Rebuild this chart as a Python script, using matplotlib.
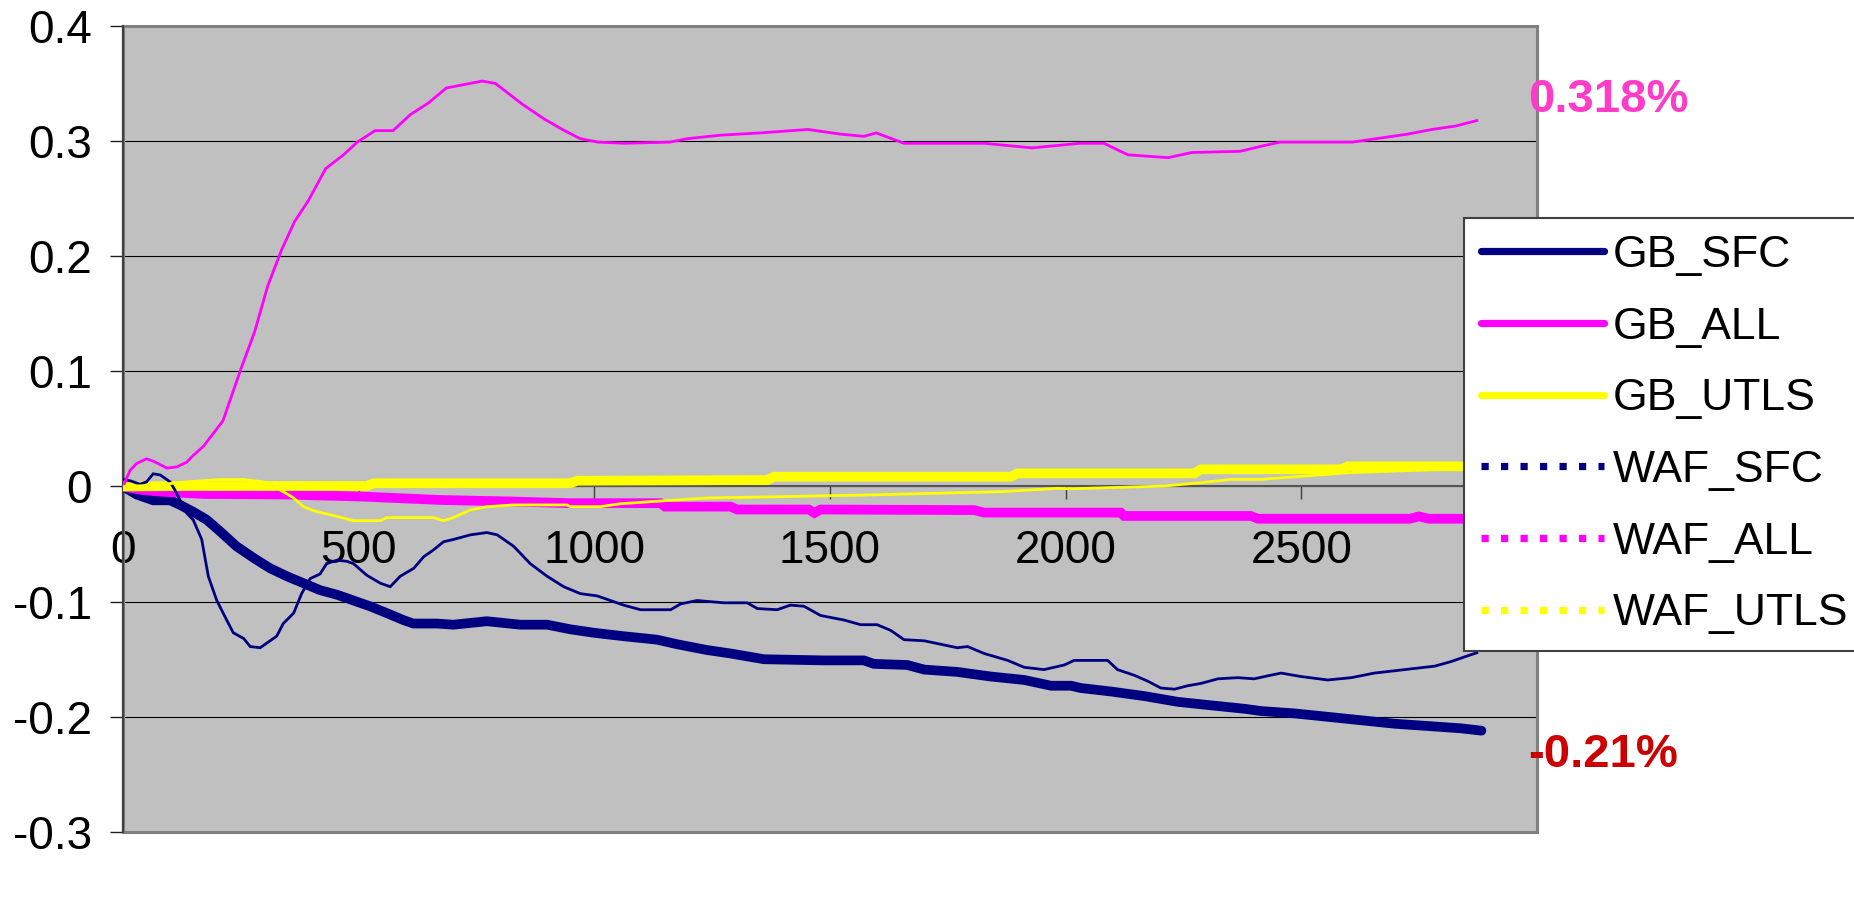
import matplotlib
matplotlib.use("Agg")
import matplotlib.pyplot as plt
from matplotlib.lines import Line2D
from matplotlib.patches import Rectangle

plt.rcParams['font.family'] = ['Liberation Sans', 'DejaVu Sans']

# ---- data ----
series_names = ["GB_SFC", "GB_ALL", "GB_UTLS", "WAF_SFC", "WAF_ALL", "WAF_UTLS"]

gb_sfc = [(0, 0), (29, -0.007), (64, -0.012), (100, -0.012), (121, -0.016), (149, -0.022),
          (178, -0.029), (206, -0.039), (241, -0.052), (277, -0.062), (312, -0.071), (348, -0.078),
          (383, -0.084), (418, -0.090), (454, -0.094), (489, -0.099), (524, -0.104), (560, -0.110),
          (595, -0.116), (616, -0.119), (666, -0.119), (701, -0.120), (772, -0.117), (843, -0.120),
          (900, -0.120), (949, -0.124), (999, -0.127), (1062, -0.130), (1133, -0.133), (1176, -0.137),
          (1239, -0.142), (1289, -0.145), (1360, -0.150), (1487, -0.151), (1572, -0.151), (1593, -0.154),
          (1664, -0.155), (1700, -0.159), (1770, -0.161), (1841, -0.165), (1912, -0.168), (1969, -0.173),
          (2011, -0.173), (2032, -0.175), (2096, -0.178), (2167, -0.182), (2238, -0.187), (2308, -0.190),
          (2379, -0.193), (2415, -0.195), (2485, -0.197), (2556, -0.200), (2627, -0.203), (2698, -0.206),
          (2769, -0.208), (2839, -0.210), (2882, -0.212)]

gb_all = [(0, 0), (40, -0.003), (79, -0.0045), (171, -0.0065), (348, -0.007), (511, -0.0088),
          (673, -0.0117), (822, -0.013), (949, -0.0145), (1140, -0.0145), (1150, -0.0175),
          (1289, -0.0175), (1303, -0.020), (1455, -0.020), (1467, -0.023), (1480, -0.020),
          (1806, -0.0205), (1827, -0.0227), (2117, -0.0227), (2124, -0.0256), (2393, -0.0256),
          (2408, -0.028), (2730, -0.028), (2750, -0.026), (2770, -0.028), (2882, -0.028)]

gb_utls = [(0, 0), (135, 0.0004), (517, 0.0004), (532, 0.0028), (949, 0.0028), (964, 0.005),
           (1367, 0.0056), (1381, 0.0085), (1884, 0.0085), (1898, 0.0114), (2273, 0.0114),
           (2287, 0.0149), (2584, 0.0149), (2599, 0.0175), (2882, 0.0175)]

waf_sfc = [(0, 0.006), (15, 0.005), (36, 0.002), (50, 0.004), (64, 0.011), (79, 0.010), (100, 0.004),
           (110, -0.003), (135, -0.023), (149, -0.029), (167, -0.046), (181, -0.078), (199, -0.099),
           (220, -0.116), (234, -0.127), (256, -0.132), (270, -0.139), (291, -0.140), (305, -0.136),
           (326, -0.130), (340, -0.119), (362, -0.110), (379, -0.093), (397, -0.080), (418, -0.076),
           (432, -0.067), (454, -0.064), (475, -0.065), (489, -0.067), (517, -0.077), (546, -0.084),
           (567, -0.087), (588, -0.078), (617, -0.071), (638, -0.061), (659, -0.055), (680, -0.048),
           (701, -0.046), (737, -0.042), (772, -0.040), (794, -0.042), (829, -0.052), (864, -0.067),
           (900, -0.078), (935, -0.087), (970, -0.093), (1006, -0.095), (1027, -0.098), (1062, -0.103),
           (1098, -0.107), (1162, -0.107), (1183, -0.102), (1218, -0.099), (1275, -0.101), (1324, -0.101),
           (1346, -0.106), (1388, -0.107), (1416, -0.103), (1445, -0.104), (1480, -0.112), (1530, -0.116),
           (1565, -0.120), (1600, -0.120), (1629, -0.125), (1657, -0.133), (1700, -0.134), (1735, -0.137),
           (1770, -0.140), (1792, -0.139), (1827, -0.145), (1877, -0.151), (1912, -0.157), (1954, -0.159),
           (1997, -0.155), (2018, -0.151), (2089, -0.151), (2110, -0.159), (2146, -0.164), (2174, -0.169),
           (2202, -0.175), (2231, -0.176), (2259, -0.173), (2287, -0.171), (2323, -0.167), (2365, -0.166),
           (2400, -0.167), (2422, -0.165), (2457, -0.162), (2499, -0.165), (2556, -0.168), (2606, -0.166),
           (2655, -0.162), (2698, -0.160), (2740, -0.158), (2783, -0.156), (2818, -0.152), (2846, -0.148),
           (2875, -0.144)]

waf_all = [(0, 0), (15, 0.014), (29, 0.020), (50, 0.024), (64, 0.022), (79, 0.019), (93, 0.016),
           (114, 0.017), (135, 0.021), (149, 0.027), (171, 0.035), (212, 0.057), (251, 0.103),
           (279, 0.134), (307, 0.174), (336, 0.205), (364, 0.230), (393, 0.248), (430, 0.276),
           (468, 0.288), (497, 0.299), (535, 0.309), (573, 0.309), (610, 0.323), (648, 0.333),
           (686, 0.346), (724, 0.349), (762, 0.352), (790, 0.350), (809, 0.344), (847, 0.332),
           (894, 0.319), (932, 0.310), (970, 0.302), (1008, 0.299), (1065, 0.298), (1160, 0.299),
           (1198, 0.302), (1267, 0.305), (1352, 0.307), (1453, 0.310), (1521, 0.306), (1572, 0.304),
           (1598, 0.307), (1657, 0.298), (1827, 0.298), (1929, 0.294), (2031, 0.298), (2081, 0.298),
           (2132, 0.288), (2217, 0.2855), (2268, 0.290), (2370, 0.291), (2421, 0.296), (2455, 0.299),
           (2608, 0.299), (2659, 0.302), (2726, 0.306), (2777, 0.310), (2828, 0.313), (2875, 0.318)]

waf_utls = [(0, 0), (64, 0.001), (135, 0.004), (206, 0.006), (256, 0.006), (298, 0.004), (340, -0.0045),
            (362, -0.010), (383, -0.0175), (404, -0.021), (454, -0.026), (489, -0.0297), (546, -0.0297),
            (560, -0.027), (659, -0.027), (680, -0.0297), (701, -0.027), (737, -0.0204), (772, -0.0175),
            (829, -0.016), (942, -0.016), (949, -0.0175), (1013, -0.0175), (1055, -0.015), (1126, -0.013),
            (1239, -0.010), (1579, -0.0074), (1863, -0.0045), (1983, -0.0016), (2011, -0.002),
            (2209, 0.0004), (2287, 0.0033), (2351, 0.0062), (2415, 0.0062), (2600, 0.012), (2882, 0.016)]

end_labels = ["0.318%", "-0.21%"]
x_ticks = [0, 500, 1000, 1500, 2000, 2500]
y_ticks = [-0.3, -0.2, -0.1, 0, 0.1, 0.2, 0.3, 0.4]
y_tick_labels = ["-0.3", "-0.2", "-0.1", "0", "0.1", "0.2", "0.3", "0.4"]

colors = ["#000080", "#FF00FF", "#FFFF00", "#000080", "#FF00FF", "#FFFF00"]

# ---- figure ----
W, H = 1854, 899
fig = plt.figure(figsize=(W / 100, H / 100), dpi=100)
ax = fig.add_axes([123 / W, 1 - 832 / H, (1537 - 123) / W, (832 - 25.8) / H])
ax.set_facecolor("#C0C0C0")

all_series = [gb_sfc, gb_all, gb_utls, waf_sfc, waf_all, waf_utls]
for i, s in enumerate(all_series):
    xs, ys = zip(*s)
    thick = i < 3
    ax.plot(xs, ys, color=colors[i], lw=7 if thick else 2.0,
            solid_capstyle='round' if thick else 'butt', solid_joinstyle='miter', zorder=3 + i)

ax.set_xlim(0, 3000)
ax.set_ylim(-0.3, 0.4)
ax.set_yticks(y_ticks)
ax.set_yticklabels(y_tick_labels)
ax.set_xticks(x_ticks)
ax.set_xticklabels([str(v) for v in x_ticks])

# gridlines
ax.yaxis.grid(True, color="black", lw=0.8)
ax.set_axisbelow(True)

# spines
for side in ["top", "right"]:
    ax.spines[side].set_visible(False)
ax.spines["left"].set_color("#404040")
ax.spines["left"].set_linewidth(1.6)
ax.spines["bottom"].set_position(("data", 0))
ax.spines["bottom"].set_color("#555555")
ax.spines["bottom"].set_linewidth(1.5)
ax.spines["bottom"].set_zorder(2.5)

# plot-area border
ax.add_patch(Rectangle((0, 0), 1, 1, transform=ax.transAxes, fill=False,
                       edgecolor="#808080", lw=2.2, zorder=1, clip_on=False))

ax.tick_params(axis="y", direction="out", length=9.5, width=1.0, color="#202020",
               labelsize=33, pad=13)
ax.tick_params(axis="x", direction="out", length=9.5, width=1.0, color="#404040",
               labelsize=33, pad=21)

# end labels
ax.text(2981, 0.336, end_labels[0], color="#FF3CC8", fontsize=34, fontweight="bold",
        ha="left", va="center", clip_on=False)
ax.text(2981, -0.233, end_labels[1], color="#CC0000", fontsize=34, fontweight="bold",
        ha="left", va="center", clip_on=False)

# legend
handles = []
for i, name in enumerate(series_names):
    if i < 3:
        handles.append(Line2D([], [], color=colors[i], lw=5.2, solid_capstyle='round'))
    else:
        handles.append(Line2D([], [], color=colors[i], lw=5.2, linestyle=(0, (1, 1.7)),
                              dash_capstyle='butt'))
leg = fig.legend(handles, series_names, loc="upper left",
                 bbox_to_anchor=(1464 / W, 1 - 218 / H), bbox_transform=fig.transFigure,
                 borderaxespad=0, fontsize=32, frameon=True, fancybox=False,
                 handlelength=2.78, handletextpad=0.18, borderpad=0.38, labelspacing=0.69)
leg.get_frame().set_edgecolor("#404040")
leg.get_frame().set_linewidth(1.5)
leg.get_frame().set_facecolor("white")
leg.get_frame().set_alpha(1)

fig.savefig("out.png", dpi=100)
